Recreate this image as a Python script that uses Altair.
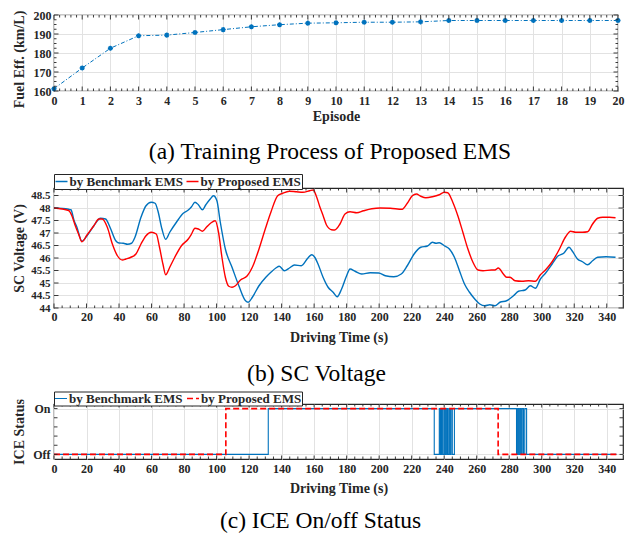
import altair as alt
import pandas as pd

FONT = "Liberation Serif"
BLUE = "#0072BD"
RED = "#FF0000"
AXC = "#262626"
GRID = "#E2E2E2"

# ---------------- (a) training process ----------------
episodes = list(range(21))
fuel_eff = [161.2, 172.1, 182.5, 189.1, 189.4, 190.8, 192.3, 193.8, 194.9, 195.7,
            195.9, 196.2, 196.2, 196.4, 197.1, 197.1, 197.1, 197.1, 197.1, 197.1, 197.1]
a_x_major = list(range(21))
a_y_major = [160, 170, 180, 190, 200]

# ---------------- (b) SC voltage ----------------
series_names = ["by Benchmark EMS", "by Proposed EMS"]
t_bench = [0, 9, 10.4, 12.4, 14.1, 17.2, 20.3, 24.5, 28.6, 31.7, 34.9, 38, 40, 42.7, 45.2, 47.7,
           49.8, 53.5, 56.6, 59.8, 62.2, 63.9, 66.4, 68.7, 71.2, 75.3, 79.5, 82.6, 84.6, 86.7,
           88.8, 91.3, 93.4, 96.1, 98.1, 100.2, 102.3, 105.4, 109.5, 113.7, 117.8, 119.5, 122,
           126.1, 130.3, 133.4, 136.5, 138.6, 141.7, 144.8, 147.9, 152.1, 156.2, 158.5, 160.5,
           162.4, 165.5, 168.6, 171.7, 174.2, 176.9, 180, 182.1, 185.2, 189.3, 194.5, 199.7,
           203.8, 209, 213.6, 217.3, 221.5, 225.6, 229.7, 232.8, 234.9, 237, 240.1, 243.2,
           246.3, 249.4, 252.5, 255.6, 258.8, 261.9, 265, 268.1, 271.2, 274.3, 278.4, 282.6,
           285.7, 289.8, 293, 296.1, 299.2, 302.3, 306.4, 309.5, 313.7, 316.8, 318.9, 322,
           325.1, 328.2, 331.3, 334.4, 339.6, 345.4]
v_bench = [48.0, 47.95, 47.93, 47.49, 47.23, 46.67, 46.89, 47.29, 47.59, 47.56, 47.16, 46.69,
           46.6, 46.59, 46.55, 46.59, 46.83, 47.63, 48.09, 48.23, 48.19, 47.89, 47.16, 46.75,
           47.03, 47.43, 47.79, 47.92, 48.05, 48.23, 48.13, 47.93, 48.13, 48.36, 48.49, 48.29,
           47.43, 46.36, 45.63, 44.89, 44.29, 44.23, 44.43, 44.89, 45.23, 45.43, 45.6, 45.67,
           45.49, 45.6, 45.72, 45.69, 46.0, 46.13, 46.02, 45.76, 45.23, 44.83, 44.63, 44.45,
           44.76, 45.29, 45.56, 45.47, 45.36, 45.41, 45.4, 45.29, 45.25, 45.36, 45.69, 46.16,
           46.43, 46.48, 46.63, 46.59, 46.61, 46.49, 46.36, 46.03, 45.49, 44.96, 44.63, 44.36,
           44.16, 44.09, 44.13, 44.09, 44.23, 44.29, 44.49, 44.67, 44.72, 44.89, 44.79, 45.16,
           45.39, 45.76, 46.05, 46.2, 46.43, 46.27, 45.96, 45.85, 45.73, 45.89, 46.03, 46.05,
           46.03]
t_prop = [0, 9, 11, 13.1, 15.1, 17.2, 20.3, 24.5, 27.6, 29.7, 32.8, 35.9, 39, 42.1, 44.2, 47.3,
          50.4, 53.5, 56.6, 59.8, 62.9, 64.9, 67, 68.7, 71.2, 74.3, 78.4, 82.6, 84.6, 86.7, 88.8,
          91.3, 94, 97.1, 99.2, 101.2, 103.3, 105.4, 107.5, 109.5, 111.6, 114.7, 118.9, 122,
          126.1, 130.3, 133.4, 137.6, 140.7, 144.8, 149, 153.1, 157.3, 159.5, 161.5, 163.5,
          165.5, 167.6, 170.7, 172.7, 175.9, 179, 182.1, 186.2, 190.4, 195.5, 200.7, 206.9,
          214.2, 217.3, 220.4, 222.9, 225.6, 228.7, 232.8, 237, 240.1, 242.2, 245.3, 248.4,
          251.5, 254.6, 257.7, 260.8, 263.9, 269.1, 271.2, 273.3, 276.4, 278.4, 280.5, 283.6,
          287.8, 291.9, 296.1, 299.2, 302.3, 306.4, 310.6, 314.7, 317.8, 320.9, 325.1, 328.2,
          331.3, 334.4, 337.5, 341.7, 345.4]
v_prop = [48.0, 47.9, 47.69, 47.29, 46.96, 46.65, 46.92, 47.29, 47.56, 47.56, 47.23, 46.56,
          46.09, 45.92, 45.96, 46.03, 46.16, 46.56, 46.89, 47.03, 46.96, 46.43, 45.76, 45.33,
          45.63, 46.03, 46.49, 46.76, 46.96, 47.19, 47.16, 47.07, 47.25, 47.43, 47.49, 47.03,
          46.03, 45.23, 44.87, 44.83, 44.89, 45.12, 45.29, 45.63, 46.36, 47.23, 47.83, 48.49,
          48.59, 48.67, 48.65, 48.63, 48.69, 48.72, 48.45, 48.05, 47.7, 47.32, 47.13, 47.12,
          47.36, 47.76, 47.85, 47.81, 47.89, 47.97, 48.0, 47.99, 47.95, 48.19, 48.49, 48.56,
          48.47, 48.41, 48.45, 48.53, 48.63, 48.61, 48.23, 47.69, 47.03, 46.36, 45.83, 45.52,
          45.49, 45.52, 45.52, 45.6, 45.36, 45.23, 45.23, 45.09, 45.07, 45.09, 45.07, 45.33,
          45.52, 45.85, 46.32, 46.85, 47.07, 47.03, 47.03, 47.05, 47.36, 47.59, 47.63, 47.63,
          47.61]
time_major = [0, 20, 40, 60, 80, 100, 120, 140, 160, 180, 200, 220, 240, 260, 280, 300, 320, 340]
b_y_major = [44, 44.5, 45, 45.5, 46, 46.5, 47, 47.5, 48, 48.5]

# ---------------- (c) ICE on/off ----------------
ice_b_t = [0, 131.8, 233.9, 237.0, 237.7, 238.4, 239.1, 239.9, 240.6, 241.3, 242.0, 242.8,
           243.5, 244.2, 245.0, 246.3, 284.5, 285.2, 285.9, 286.6, 287.3, 288.0, 288.8,
           289.6, 290.7, 346.0]
ice_b_s = [0, 1, 0, 1, 0, 1, 0, 1, 0, 1, 0, 1, 0, 1, 0, 1, 0, 1, 0, 1, 0, 1, 0, 1, 0, 0]
ice_p_t = [0, 105.7, 273.2, 346.0]
ice_p_s = [0, 1, 0, 0]
c_y_ticks = [0, 0.2, 0.4, 0.6, 0.8, 1]


def minor_of(major, n):
    out = []
    for lo, hi in zip(major[:-1], major[1:]):
        step = (hi - lo) / n
        out += [lo + k * step for k in range(1, n)]
    return out


def tick_layers(ex, xf, xmaj, xmin, ey, yf, ymaj, ymin, W, H, maj=4.5, mnr=2.5):
    layers = []
    for vals, L in ((xmaj, maj), (xmin, mnr)):
        if not vals:
            continue
        base = alt.Chart(pd.DataFrame({xf: vals})).mark_rule(color=AXC, strokeWidth=0.9)
        layers.append(base.encode(x=ex, y=alt.value(H), y2=alt.value(H - L)))
        layers.append(base.encode(x=ex, y=alt.value(0), y2=alt.value(L)))
    for vals, L in ((ymaj, maj), (ymin, mnr)):
        if not vals:
            continue
        base = alt.Chart(pd.DataFrame({yf: vals})).mark_rule(color=AXC, strokeWidth=0.9)
        layers.append(base.encode(y=ey, x=alt.value(0), x2=alt.value(L)))
        layers.append(base.encode(y=ey, x=alt.value(W), x2=alt.value(W - L)))
    return layers


def caption(text, offset, dx):
    return alt.TitleParams(text, orient="bottom", anchor="middle", frame="group",
                           font=FONT, fontSize=23.5, fontWeight="normal", color="black",
                           offset=offset, dx=dx)


def legend(ly, pad):
    return alt.Legend(orient="none", legendX=0, legendY=ly, direction="horizontal", title=None,
                      fillColor="white", strokeColor=AXC, padding=pad, labelFont=FONT,
                      labelFontWeight="bold", labelFontSize=13, labelColor=AXC,
                      symbolType="stroke", symbolSize=144, symbolStrokeWidth=1.5,
                      columnPadding=0, labelOffset=1, labelLimit=0)


# ---- panel a
WA, HA = 564, 76
xs_a = alt.Scale(domain=[0, 20], nice=False, zero=False)
ys_a = alt.Scale(domain=[160, 200], nice=False, zero=False)
df_a = pd.DataFrame({"Episode": episodes, "FE": fuel_eff})
xa = alt.X("Episode:Q", scale=xs_a,
           axis=alt.Axis(values=a_x_major, format="d", title="Episode", labelPadding=4,
                         titlePadding=3, labelFlush=False, labelOverlap=False))
ya = alt.Y("FE:Q", scale=ys_a,
           axis=alt.Axis(values=a_y_major, title="Fuel Eff. (km/L)", labelPadding=3,
                         minExtent=24, maxExtent=24, titlePadding=4, titleY=44,
                         labelFlush=False))
asterisk = "M-1,0L1,0M0,-1L0,1M-0.7,-0.7L0.7,0.7M-0.7,0.7L0.7,-0.7"
line_a = alt.Chart(df_a).mark_line(color=BLUE, strokeWidth=1, strokeDash=[4, 2, 1, 2]).encode(x=xa, y=ya)
pts_a = alt.Chart(df_a).mark_point(shape=asterisk, filled=False, color=BLUE, size=26,
                                   strokeWidth=1.4, opacity=1).encode(x=xa, y=ya)
chart_a = alt.layer(
    line_a, pts_a,
    *tick_layers(xa, "Episode", a_x_major, minor_of(a_x_major, 5), ya, "FE", a_y_major,
                 minor_of(a_y_major, 4), WA, HA)
).properties(width=WA, height=HA, title=caption("(a) Training Process of Proposed EMS", 17, -6))

# ---- panel b
WB, HB = 569, 120
xs_b = alt.Scale(domain=[0, 350], nice=False, zero=False)
ys_b = alt.Scale(domain=[44, 48.8], nice=False, zero=False)
df_b = pd.concat([
    pd.DataFrame({"t": t_bench, "V": v_bench, "s": series_names[0]}),
    pd.DataFrame({"t": t_prop, "V": v_prop, "s": series_names[1]}),
])
xb = alt.X("t:Q", scale=xs_b,
           axis=alt.Axis(values=time_major, format="d", title="Driving Time (s)",
                         labelPadding=3, titlePadding=8, labelFlush=False, labelOverlap=False))
yb = alt.Y("V:Q", scale=ys_b,
           axis=alt.Axis(values=b_y_major, format="~g", title="SC Voltage (V)", labelPadding=4,
                         labelFontSize=11, minExtent=24, maxExtent=24, titlePadding=4,
                         labelFlush=False, labelOverlap=False))
line_b = alt.Chart(df_b).mark_line(strokeWidth=1.4, interpolate="monotone").encode(
    x=xb, y=yb,
    color=alt.Color("s:N", scale=alt.Scale(domain=series_names, range=[BLUE, RED]),
                    legend=legend(-14, 0.5)),
)
chart_b = alt.layer(
    line_b,
    *tick_layers(xb, "t", time_major, minor_of(time_major, 4), yb, "V", b_y_major, [], WB, HB)
).properties(width=WB, height=HB, title=caption("(b) SC Voltage", 18, -22))

# ---- panel c
WC, HC = 569, 55
xs_c = alt.Scale(domain=[0, 350], nice=False, zero=False)
ys_c = alt.Scale(domain=[-0.1, 1.1], nice=False, zero=False)
df_c = pd.concat([
    pd.DataFrame({"t": ice_b_t, "S": ice_b_s, "s": series_names[0]}),
    pd.DataFrame({"t": ice_p_t, "S": ice_p_s, "s": series_names[1]}),
])
xc = alt.X("t:Q", scale=xs_c,
           axis=alt.Axis(values=time_major, format="d", title="Driving Time (s)",
                         labelPadding=4, titlePadding=7, labelFlush=False, labelOverlap=False))
yc = alt.Y("S:Q", scale=ys_c,
           axis=alt.Axis(values=[0, 1], title="ICE Status", labelPadding=4,
                         labelExpr="datum.value == 1 ? 'On' : 'Off'",
                         minExtent=24, maxExtent=24, titlePadding=4, labelFlush=False))
leg_c = legend(-12.5, 0)
line_c = alt.Chart(df_c).mark_line(interpolate="step-after").encode(
    x=xc, y=yc,
    color=alt.Color("s:N", scale=alt.Scale(domain=series_names, range=[BLUE, RED]), legend=leg_c),
    strokeDash=alt.StrokeDash("s:N", scale=alt.Scale(domain=series_names, range=[[1, 0], [6, 3]]),
                              legend=leg_c),
    strokeWidth=alt.StrokeWidth("s:N", scale=alt.Scale(domain=series_names, range=[1.1, 1.6]),
                                legend=None),
)
chart_c = alt.layer(
    line_c,
    *tick_layers(xc, "t", time_major, minor_of(time_major, 4), yc, "S", c_y_ticks, [],
                 WC, HC, maj=3.5)
).properties(width=WC, height=HC, title=caption("(c) ICE On/off Status", 14, -18))

top = alt.concat(chart_a, chart_b, columns=1, spacing=7).resolve_scale(
    color="independent").resolve_legend(color="independent")
chart = alt.concat(top, chart_c, columns=1, spacing=3).resolve_scale(
    color="independent", strokeDash="independent", strokeWidth="independent"
).resolve_legend(
    color="independent", strokeDash="independent", strokeWidth="independent"
).properties(
    padding={"left": 3, "top": 0, "right": 0, "bottom": 0}, background="white"
).configure_view(stroke=AXC, strokeWidth=1.2).configure_axis(
    labelFont=FONT, labelFontWeight="bold", labelFontSize=12, labelColor=AXC,
    titleFont=FONT, titleFontWeight="bold", titleFontSize=14, titleColor=AXC,
    gridColor=GRID, gridWidth=1, ticks=False, domain=False,
)

chart.save("out.html", embed_options={"renderer": "svg", "actions": False})
